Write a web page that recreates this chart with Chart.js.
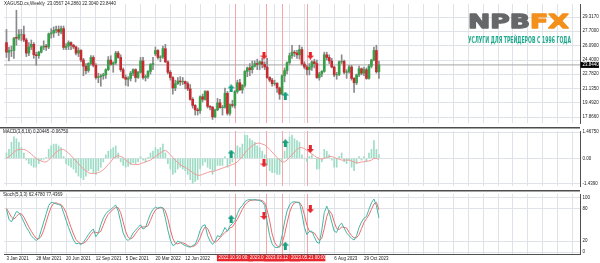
<!DOCTYPE html>
<html>
<head>
<meta charset="utf-8">
<title>XAGUSD weekly</title>
<script src="https://cdn.jsdelivr.net/npm/chart.js@4.4.1/dist/chart.umd.min.js"></script>
<style>
  body { margin: 0; background: #fff; }
  #wrap { position: relative; width: 600px; height: 263px; overflow: hidden; background: #fff; }
  #wrap canvas { position: absolute; left: 0; }
</style>
</head>
<body>
<div id="wrap">
  <canvas id="mainChart" width="600" height="127" style="top:0"></canvas>
  <canvas id="macdChart" width="600" height="63" style="top:127px"></canvas>
  <canvas id="stochChart" width="600" height="73" style="top:190px"></canvas>
</div>
<script>
Chart.defaults.font.family = '"Liberation Sans", Arial, sans-serif';
Chart.defaults.color = '#222';
Chart.defaults.animation = false;

// weekly candles, 3 Jan 2021 .. 10 Dec 2023
const opens = [26.4,25.3,25.5,25.5,27.0,26.9,27.3,27.3,26.7,25.2,
  25.9,26.2,25.0,24.9,25.3,25.9,26.0,25.9,27.4,27.5,
  27.8,27.9,27.6,28.0,25.85,26.0,26.4,26.1,25.9,25.2,
  25.5,24.4,23.7,23.2,24.0,24.7,23.8,22.4,22.5,22.6,
  22.7,23.3,24.4,23.9,24.1,25.2,24.7,23.3,22.4,22.2,
  22.3,22.9,23.3,22.4,23.0,24.3,22.4,22.5,23.1,23.9,
  25.1,25.5,24.7,24.75,25.7,24.2,23.0,22.4,21.2,21.7,
  22.0,21.9,21.95,21.7,21.1,19.9,19.2,18.7,18.6,20.2,
  19.9,20.8,19.1,19.0,17.9,18.7,19.5,18.95,19.0,20.6,
  18.3,19.3,19.2,20.8,21.8,21.0,21.5,23.1,23.5,23.3,
  23.7,24.0,23.9,24.2,23.9,23.6,22.4,22.1,21.7,21.75,
  21.2,20.5,22.6,23.2,24.1,24.9,25.3,25.2,25.0,25.6,
  23.95,23.6,23.3,23.6,24.2,24.0,22.4,22.8,23.1,25.0,
  24.7,24.3,23.6,22.7,22.75,24.2,24.25,23.0,23.05,23.6,
  22.3,21.8,22.7,23.4,22.9,23.3,22.3,23.7,24.4,25.5,
  23.0567];
const highs = [27.9,25.9,26.0,27.0,30.1,27.9,27.9,28.3,26.9,26.4,
  26.7,26.4,25.3,25.4,26.0,26.6,26.2,27.5,28.0,28.2,
  28.3,28.3,28.3,28.3,26.3,26.6,26.5,26.2,26.0,25.8,
  25.6,24.6,24.0,24.1,24.9,24.9,24.0,22.9,22.8,22.9,
  23.4,24.8,24.9,24.2,25.4,25.4,25.0,23.5,22.7,22.5,
  23.1,23.4,23.4,23.1,24.7,24.7,22.7,23.2,24.0,24.7,
  25.9,25.6,24.9,26.0,26.2,24.3,23.2,22.5,22.1,22.4,
  22.5,22.4,22.0,21.9,21.6,20.1,19.3,18.9,20.3,20.5,
  20.9,20.9,19.2,19.1,18.8,20.0,19.9,19.2,21.2,20.8,
  19.4,19.8,20.9,22.1,22.2,21.6,23.2,23.6,24.0,24.3,
  24.3,24.5,24.3,24.6,24.2,24.6,22.5,22.3,22.1,21.8,
  21.3,22.7,23.5,24.2,25.2,26.1,25.5,25.5,26.1,25.9,
  24.2,23.8,24.0,24.3,24.5,24.4,23.0,23.2,25.3,25.3,
  25.0,24.6,23.7,23.0,24.3,25.0,24.4,23.3,23.8,23.8,
  22.4,22.8,23.7,23.5,23.6,23.5,23.9,24.5,25.9,26.1,
  24.286];
const lows = [24.7,24.3,24.8,24.6,26.1,26.7,26.6,26.5,24.8,24.9,
  25.6,24.6,23.8,24.6,25.2,25.6,25.5,25.7,26.9,27.0,
  27.5,27.2,27.4,25.6,25.6,25.6,25.6,25.7,25.0,24.8,
  24.2,22.6,22.8,23.0,23.8,23.6,22.2,21.8,21.4,22.2,
  22.3,23.2,23.8,23.0,23.9,24.6,23.1,22.3,21.5,21.4,
  22.0,22.6,21.9,22.3,22.9,22.2,22.0,22.3,22.8,23.3,
  24.9,24.5,24.2,24.6,24.1,22.8,22.1,20.5,20.9,21.6,
  21.5,21.6,21.1,20.9,19.8,18.9,18.1,18.1,18.3,19.6,
  19.8,18.9,18.7,17.6,17.8,18.6,18.9,18.1,18.9,18.1,
  18.1,19.0,18.9,20.6,20.9,20.6,21.3,22.5,22.6,22.9,
  23.6,23.3,23.3,23.5,23.3,22.3,21.9,21.4,21.5,20.7,
  19.9,20.4,21.9,22.8,23.9,24.6,24.8,24.6,24.5,23.8,
  23.4,22.7,22.7,23.2,23.5,22.3,22.1,22.5,23.0,24.4,
  24.0,23.5,22.5,22.2,22.6,24.0,22.8,22.3,22.9,22.1,
  20.7,21.6,22.5,22.7,22.6,22.2,22.2,23.5,24.3,22.9,
  22.304];
const closes = [25.3,25.5,25.5,26.9,26.9,27.3,27.3,26.7,25.2,25.9,
  26.2,25.0,24.9,25.3,25.9,26.0,25.9,27.4,27.5,27.8,
  27.9,27.6,28.0,25.85,26.0,26.4,26.1,25.9,25.2,25.5,
  24.4,23.7,23.2,24.0,24.7,23.8,22.4,22.5,22.6,22.7,
  23.3,24.4,23.9,24.1,25.2,24.7,23.3,22.4,22.2,22.3,
  22.9,23.3,22.4,23.0,24.3,22.4,22.5,23.1,23.9,24.0,
  25.5,24.7,24.75,25.7,24.2,23.0,22.4,21.2,21.7,22.0,
  21.9,21.95,21.7,21.1,19.9,19.2,18.7,18.6,20.2,19.9,
  20.8,19.1,19.0,17.9,18.7,19.5,18.95,19.0,20.6,18.3,
  19.3,19.2,20.8,21.8,21.0,21.5,23.1,23.5,23.3,23.7,
  24.0,23.9,24.2,23.9,23.6,22.4,22.1,21.7,21.75,21.2,
  20.5,22.6,23.2,24.1,24.9,25.3,25.2,25.0,25.6,23.95,
  23.6,23.3,23.6,24.2,24.0,22.4,22.8,23.1,25.0,24.7,
  24.3,23.6,22.7,22.75,24.2,24.25,23.0,23.05,23.6,22.3,
  21.8,22.7,23.4,22.9,23.3,22.3,23.7,24.4,25.5,23.0567,
  23.844];

// MACD pane
const macdHist = [0.3,0.5,0.9,1.2,1.1,0.9,0.6,0.3,-0.1,-0.3,
  -0.4,-0.5,-0.5,-0.3,-0.1,-0.05,0.05,0.5,0.7,0.8,
  0.8,0.7,0.6,0.1,-0.3,-0.4,-0.5,-0.6,-0.8,-1.0,
  -1.1,-1.2,-1.0,-0.7,-0.6,-0.8,-0.9,-0.7,-0.5,-0.2,
  0.2,0.4,0.5,0.6,0.7,0.3,-0.2,-0.4,-0.5,-0.45,
  -0.35,-0.25,-0.3,-0.2,0.1,-0.1,-0.2,0.05,0.3,0.4,
  0.6,0.5,0.6,0.8,0.3,-0.3,-0.6,-0.9,-0.8,-0.6,
  -0.5,-0.6,-0.7,-0.9,-1.2,-1.4,-1.3,-1.2,-0.6,-0.4,
  -0.2,-0.5,-0.6,-0.9,-0.7,-0.4,-0.4,-0.4,0.1,-0.5,
  -0.3,-0.2,0.3,0.7,0.6,0.8,1.3,1.3,1.1,1.0,
  0.9,0.7,0.6,0.4,0.2,-0.4,-0.7,-0.8,-0.8,-0.9,
  -0.9,-0.2,0.4,0.9,1.2,1.3,1.1,1.0,0.9,0.2,
  0.0,-0.2,0.1,0.2,0.0,-0.6,-0.6,-0.2,0.5,0.4,
  0.2,-0.1,-0.5,-0.5,0.1,0.3,-0.2,-0.3,-0.1,-0.5,
  -0.7,-0.3,0.1,-0.1,0.1,-0.2,0.3,0.5,1.0,0.5,
  0.20445];
const macdSignal = [0.0,0.1,0.2,0.35,0.45,0.5,0.5,0.5,0.45,0.35,
  0.25,0.1,0.0,-0.1,-0.15,-0.2,-0.2,-0.1,0.05,0.2,
  0.35,0.45,0.5,0.5,0.4,0.3,0.15,0.0,-0.15,-0.3,
  -0.45,-0.6,-0.7,-0.8,-0.85,-0.85,-0.85,-0.8,-0.75,-0.65,
  -0.5,-0.35,-0.2,0.0,0.1,0.15,0.1,0.05,-0.1,-0.2,
  -0.3,-0.35,-0.35,-0.35,-0.3,-0.25,-0.2,-0.15,-0.1,0.0,
  0.1,0.2,0.3,0.4,0.45,0.35,0.2,0.05,-0.1,-0.25,
  -0.35,-0.45,-0.5,-0.6,-0.7,-0.8,-0.9,-0.95,-0.95,-0.9,
  -0.85,-0.8,-0.75,-0.75,-0.7,-0.65,-0.6,-0.55,-0.5,-0.45,
  -0.4,-0.35,-0.3,-0.2,-0.05,0.1,0.3,0.45,0.6,0.7,
  0.8,0.85,0.85,0.8,0.75,0.65,0.5,0.35,0.2,0.05,
  -0.1,-0.2,-0.2,-0.1,0.05,0.2,0.35,0.5,0.6,0.6,
  0.55,0.45,0.35,0.25,0.15,0.05,0.0,-0.05,0.0,0.05,
  0.1,0.1,0.05,0.0,-0.05,-0.1,-0.1,-0.1,-0.1,-0.15,
  -0.2,-0.25,-0.25,-0.2,-0.2,-0.15,-0.15,-0.1,0.0,0.0,
  -0.0675];

// Stochastic pane
const stochMain = [78,60,55,65,74,72,65,55,45,38,
  30,25,21,25,40,55,70,85,91,90,
  88,87,85,72,58,45,33,22,15,16,
  14,18,25,32,38,42,28,35,50,62,
  70,75,78,82,86,75,55,35,25,21,
  26,35,40,45,50,42,45,58,70,78,
  82,80,82,80,62,40,22,12,14,20,
  18,14,12,10,9,12,14,25,40,48,
  50,30,20,14,20,30,28,35,45,38,
  48,52,58,70,80,85,92,95,96,95,
  96,95,94,92,85,55,30,15,9,8,
  10,30,55,75,86,91,92,91,90,70,
  45,32,38,38,28,18,16,40,72,84,
  72,55,38,36,48,53,44,35,30,25,
  22,30,45,55,62,65,78,90,97,85,
  62.478];
const stochSignal = [80,72,64,60,65,70,70,64,55,46,
  38,31,25,24,29,40,55,70,82,89,
  90,88,87,81,72,58,45,33,23,18,
  15,16,19,25,32,37,36,35,38,49,
  61,69,74,78,82,81,72,55,38,27,
  24,27,34,40,45,46,46,48,58,69,
  77,80,81,81,75,61,41,25,16,15,
  17,17,15,12,10,10,12,17,26,38,
  46,43,33,21,18,21,26,31,36,39,
  44,46,53,60,69,78,86,91,94,95,
  95,95,95,94,90,77,57,33,18,11,
  9,16,32,53,72,84,90,91,91,84,
  68,49,38,36,35,28,21,25,43,65,
  76,70,55,43,41,46,45,44,36,30,
  26,26,32,43,54,61,68,78,88,91,
  77.4369];

// axis ticks and labels
const priceTicks = [17.866, 19.492, 21.135, 22.782, 24.4, 26.09, 27.7, 29.317];
const macdTicks = [-1.439, 0, 1.4675];
const macdTickLabels = ['-1.4390', '0.00', '1.46750'];
const stochTicks = [0, 20, 80, 100];
const dateIdx = [0, 12, 24, 36, 48, 60, 72, 132, 144];
const dateLabels = ['3 Jan 2021', '28 Mar 2021', '20 Jun 2021', '12 Sep 2021', '5 Dec 2021',
  '20 Mar 2022', '12 Jun 2022', '6 Aug 2023', '29 Oct 2023'];

// signal arrows and vertical marker lines
const signalBars = [90.5, 103.7, 112.3, 122.4];
const signalUp = [true, false, true, false];
const arrowPrice = [21.16, 24.92, 20.34, 24.92];
const arrowMacd = [0.27, -0.29, 0.86, 0.52];
const arrowStoch = [60.7, 66, 11.8, 78.3];
const markerBars = [92, 104.6, 111, 121.2];
const markerLabels = ['2022.10.30 00:00', '2023.01.29 00:00', '2023.03.12 00:00', '2023.05.21 00:00'];

const X_MIN = -1, X_MAX = 231;
const gridIdx = [];
for (let v = 0; v <= 228; v += 6) gridIdx.push(v);

const UP = '#36a047', DOWN = '#c62a2f', WICK = '#8a8a8a';
const GRID = '#dfe3e8', AXIS = '#505050';
const HIST = '#9fdcc6', MACD_SIG = '#f29a9a';
const ST_MAIN = '#44b6a7', ST_SIG = '#ec6b6b';
const MARKER = '#f3a6a6';
const SMALL = '4.5px "Liberation Sans", Arial, sans-serif';

function makeArrow(color, up) {
  const c = document.createElement('canvas');
  c.width = 7; c.height = 8;
  const g = c.getContext('2d');
  g.fillStyle = color;
  g.beginPath();
  if (up) {
    g.moveTo(3.5, 0); g.lineTo(7, 4); g.lineTo(5, 4); g.lineTo(5, 8);
    g.lineTo(2, 8); g.lineTo(2, 4); g.lineTo(0, 4);
  } else {
    g.moveTo(3.5, 8); g.lineTo(7, 4); g.lineTo(5, 4); g.lineTo(5, 0);
    g.lineTo(2, 0); g.lineTo(2, 4); g.lineTo(0, 4);
  }
  g.closePath();
  g.fill();
  return c;
}
const arrowUpImg = makeArrow('#17a07f', true);
const arrowDownImg = makeArrow('#e5252b', false);

function arrowSet(values) {
  return {
    type: 'line', showLine: false, order: 0,
    data: signalBars.map((b, k) => ({ x: b, y: values[k] })),
    pointStyle: signalUp.map(u => u ? arrowUpImg : arrowDownImg),
    pointRadius: 4, pointHoverRadius: 4, borderWidth: 0
  };
}

function xScale(showLabels) {
  return {
    type: 'linear', min: X_MIN, max: X_MAX, offset: false,
    afterBuildTicks: s => { s.ticks = gridIdx.map(v => ({ value: v })); },
    afterFit: s => { s.height = showLabels ? 9 : 0; s.paddingLeft = 0; s.paddingRight = 0; },
    grid: { color: GRID, drawTicks: false, offset: false },
    border: { display: showLabels, color: AXIS },
    ticks: {
      display: showLabels, autoSkip: false, maxRotation: 0, align: 'start', padding: 2,
      font: { size: 4.5 }, color: '#222',
      callback: v => { const k = dateIdx.indexOf(v); return k < 0 ? '' : dateLabels[k]; }
    }
  };
}

function yScale(min, max, ticks, fmt) {
  return {
    position: 'right', min: min, max: max,
    afterBuildTicks: s => { s.ticks = ticks.map(v => ({ value: v })); },
    afterFit: s => { s.width = 20; s.paddingTop = 0; s.paddingBottom = 0; },
    grid: { color: GRID, drawTicks: false },
    border: { color: AXIS },
    ticks: { padding: 2.5, font: { size: 4.5 }, color: '#222', callback: fmt }
  };
}

const markerPlugin = {
  id: 'markers',
  beforeDatasetsDraw(chart) {
    const { ctx, chartArea, scales } = chart;
    ctx.save();
    ctx.strokeStyle = MARKER;
    ctx.lineWidth = 1;
    markerBars.forEach(b => {
      const x = Math.round(scales.x.getPixelForValue(b)) + 0.5;
      ctx.beginPath();
      ctx.moveTo(x, chartArea.top);
      ctx.lineTo(x, chartArea.bottom);
      ctx.stroke();
    });
    ctx.restore();
  }
};

function separator(ctx, y, w) {
  ctx.fillStyle = '#4d4d4d';
  ctx.fillRect(0, y, w, 1.5);
}

const baseOpts = {
  responsive: false,
  animation: false,
  layout: { padding: 0 },
  plugins: { legend: { display: false }, tooltip: { enabled: false } },
  events: []
};

// ---------- main price pane ----------
const last = closes.length - 1;
new Chart(document.getElementById('mainChart'), {
  type: 'bar',
  data: {
    datasets: [
      arrowSet(arrowPrice),
      {
        data: opens.map((o, i) => ({ x: i, y: [o, closes[i]] })),
        backgroundColor: opens.map((o, i) => closes[i] >= o ? UP : DOWN),
        barThickness: 2, grouped: false, borderWidth: 0, order: 1
      },
      {
        data: lows.map((l, i) => ({ x: i, y: [l, highs[i]] })),
        backgroundColor: WICK, barThickness: 1, grouped: false, borderWidth: 0, order: 2
      },
      {
        type: 'line', data: [{ x: X_MIN, y: closes[last] }, { x: X_MAX, y: closes[last] }],
        borderColor: '#a5a5a5', borderWidth: 1, pointRadius: 0, order: 3
      }
    ]
  },
  options: Object.assign({}, baseOpts, {
    scales: {
      x: xScale(false),
      y: yScale(17.192, 30.819, priceTicks, v => v.toFixed(4))
    }
  }),
  plugins: [markerPlugin, {
    id: 'mainText',
    afterDraw(chart) {
      const { ctx, chartArea, scales } = chart;
      ctx.save();
      ctx.font = SMALL;
      ctx.fillStyle = '#222';
      ctx.textBaseline = 'top';
      ctx.fillText('XAGUSD.cs,Weekly  ' + opens[last].toFixed(4) + ' ' + highs[last].toFixed(4) + ' ' +
        lows[last].toFixed(4) + ' ' + closes[last].toFixed(4), 4, 2);

      // last price box
      const py = scales.y.getPixelForValue(closes[last]);
      ctx.fillStyle = '#000';
      ctx.fillRect(chartArea.right + 0.5, py - 3, 18.5, 6);
      ctx.fillStyle = '#fff';
      ctx.textBaseline = 'middle';
      ctx.fillText(closes[last].toFixed(4), chartArea.right + 2.5, py + 0.3);

      // broker logo
      ctx.textBaseline = 'alphabetic';
      ctx.save();
      ctx.translate(468, 27.5);
      ctx.scale(1.4, 1);
      ctx.font = 'bold 19px "DejaVu Sans", sans-serif';
      ctx.lineJoin = 'round';
      ctx.lineWidth = 1.3;
      ctx.fillStyle = ctx.strokeStyle = '#666769';
      ctx.fillText('NPB', 0, 0);
      ctx.strokeText('NPB', 0, 0);
      const w = ctx.measureText('NPB').width;
      ctx.fillStyle = ctx.strokeStyle = '#f3901c';
      ctx.fillText('FX', w, 0);
      ctx.strokeText('FX', w, 0);
      ctx.restore();
      ctx.font = 'bold 8px "DejaVu Sans", sans-serif';
      ctx.fillStyle = '#1da88c';
      ctx.fillText('УСЛУГИ ДЛЯ ТРЕЙДЕРОВ С 1996 ГОДА', 468, 42.5, 103);
      ctx.restore();
    }
  }]
});

// ---------- MACD pane ----------
new Chart(document.getElementById('macdChart'), {
  type: 'bar',
  data: {
    datasets: [
      arrowSet(arrowMacd),
      {
        type: 'line', data: macdSignal.map((v, i) => ({ x: i, y: v })),
        borderColor: MACD_SIG, borderWidth: 1, pointRadius: 0, order: 1
      },
      {
        data: macdHist.map((v, i) => ({ x: i, y: v })),
        backgroundColor: HIST, barThickness: 1, grouped: false, borderWidth: 0, order: 2
      }
    ]
  },
  options: Object.assign({}, baseOpts, {
    layout: { padding: { top: 2 } },
    scales: {
      x: xScale(false),
      y: yScale(-1.554, 1.534, macdTicks, (v, i) => macdTickLabels[i])
    }
  }),
  plugins: [markerPlugin, {
    id: 'macdText',
    afterDraw(chart) {
      const { ctx, chartArea } = chart;
      ctx.save();
      separator(ctx, 0, chartArea.right);
      ctx.font = SMALL;
      ctx.fillStyle = '#222';
      ctx.textBaseline = 'top';
      ctx.fillText('MACD(3,8,16) ' + macdHist[last].toFixed(5) + ' ' + macdSignal[last].toFixed(5), 3, 2.5);
      ctx.restore();
    }
  }]
});

// ---------- Stochastic pane ----------
new Chart(document.getElementById('stochChart'), {
  type: 'line',
  data: {
    datasets: [
      arrowSet(arrowStoch),
      {
        data: stochMain.map((v, i) => ({ x: i, y: v })),
        borderColor: ST_MAIN, borderWidth: 1, pointRadius: 0, order: 1
      },
      {
        data: stochSignal.map((v, i) => ({ x: i, y: v })),
        borderColor: ST_SIG, borderWidth: 1, pointRadius: 0, order: 2
      }
    ]
  },
  options: Object.assign({}, baseOpts, {
    layout: { padding: { top: 1.5 } },
    scales: {
      x: xScale(true),
      y: yScale(-3.5, 106.1, stochTicks, v => String(v))
    }
  }),
  plugins: [markerPlugin, {
    id: 'stochText',
    afterDraw(chart) {
      const { ctx, chartArea, scales } = chart;
      ctx.save();
      separator(ctx, 0, chartArea.right);
      ctx.font = SMALL;
      ctx.fillStyle = '#222';
      ctx.textBaseline = 'top';
      ctx.fillText('Stoch(5,3,3) ' + stochMain[last].toFixed(4) + ' ' + stochSignal[last].toFixed(4), 3, 3);

      // date tags of the vertical marker lines
      ctx.textBaseline = 'middle';
      markerBars.forEach((b, k) => {
        const x = scales.x.getPixelForValue(b);
        ctx.fillStyle = '#e8262b';
        ctx.fillRect(x - 18, chartArea.bottom + 0.8, 36, 6.5);
        ctx.fillStyle = '#fff';
        ctx.fillText(markerLabels[k], x - 16.5, chartArea.bottom + 4.2);
      });
      ctx.restore();
    }
  }]
});
</script>
</body>
</html>
